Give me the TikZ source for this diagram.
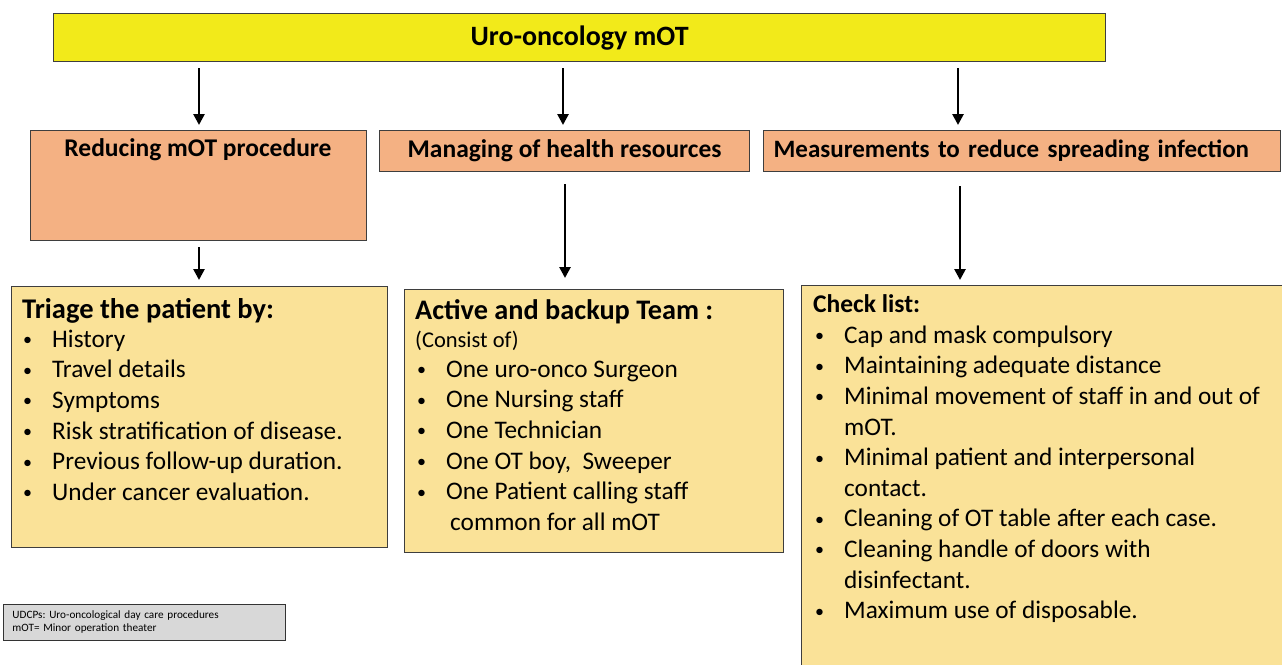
\documentclass[tikz,border=0pt]{standalone}
\usepackage{fontspec}
\setmainfont{Carlito}
\usepackage{tikz}
\usetikzlibrary{arrows.meta}

\definecolor{uroyellow}{RGB}{242,234,26}
\definecolor{uroorange}{RGB}{244,177,131}
\definecolor{uropale}{RGB}{250,226,152}
\definecolor{urogray}{RGB}{216,216,216}
\definecolor{boxline}{RGB}{62,62,62}

\newcommand{\bul}[1][28pt]{\makebox[#1][l]{\hspace*{-1pt}\raisebox{1.5pt}{\fontsize{18}{18}\selectfont\textbullet}}}
\newcommand{\firstline}{\rule{0pt}{20pt}}
\frenchspacing

\begin{document}
\begin{tikzpicture}[x=1pt,y=1pt,
  box/.style={draw=boxline,line width=1.2pt,inner sep=0pt,anchor=north west},
  head/.style={font=\fontsize{25.5}{30}\selectfont\bfseries},
  arr/.style={-{Triangle[width=11pt,length=11pt]},line width=2.6pt},
  list/.style={anchor=north west,inner sep=0pt,align=left,font=\fontsize{25.3}{30.6}\selectfont}]

\useasboundingbox (0,0) rectangle (1282,-664) ;

% top row
\node[box,fill=uroyellow,minimum width=1052pt,minimum height=48pt,font=\fontsize{28}{32}\selectfont\bfseries] (box_top) at (53,-13) {Uro-oncology mOT} ;

\node[box,fill=uroorange,minimum width=336pt,minimum height=110pt] (box_reduce) at (30,-130) {} ;
\node[head,anchor=base,inner sep=0pt] (txt_reduce) at (198,-156) {Reducing mOT procedure} ;
\node[box,fill=uroorange,minimum width=370pt,minimum height=41pt,head] (box_manage) at (379,-130) {Managing of health resources} ;
\node[box,fill=uroorange,minimum width=517pt,minimum height=41pt,font=\fontsize{25}{30}\selectfont\bfseries,text width=497pt,inner xsep=10pt,align=left] (box_measure) at (763,-130) {Measurements to reduce spreading infection} ;

\draw[arr,shorten <=6pt,shorten >=5pt] (199,0 |- box_top.south) -- (199,0 |- box_reduce.north) ;
\draw[arr,shorten <=6pt,shorten >=5pt] (563,0 |- box_top.south) -- (563,0 |- box_manage.north) ;
\draw[arr,shorten <=6pt,shorten >=5pt] (958,0 |- box_top.south) -- (958,0 |- box_measure.north) ;

% lower boxes
\node[box,fill=uropale,minimum width=376pt,minimum height=261pt] (box_triage) at (11,-286) {} ;
\node[box,fill=uropale,minimum width=379pt,minimum height=263pt] (box_team) at (404,-289) {} ;
\node[box,fill=uropale,minimum width=494pt,minimum height=395pt] (box_check) at (801,-285) {} ;

\draw[arr,shorten <=6pt,shorten >=6pt] (199,0 |- box_reduce.south) -- (199,0 |- box_triage.north) ;
\draw[arr,shorten <=12pt,shorten >=11pt] (565,0 |- box_manage.south) -- (565,0 |- box_team.north) ;
\draw[arr,shorten <=14pt,shorten >=5pt] (960,0 |- box_measure.south) -- (960,0 |- box_check.north) ;

\node[anchor=base west,inner sep=0pt,font=\fontsize{28.5}{32}\selectfont\bfseries] (head_triage) at (22,-318) {Triage the patient by:} ;
\node[list] (list_triage) at (24,-327) {\firstline\bul History\\ \bul Travel details\\ \bul Symptoms\\
  \bul Risk stratification of disease.\\ \bul Previous follow-up duration.\\ \bul Under cancer evaluation.} ;

\node[anchor=base west,inner sep=0pt,font=\fontsize{28.3}{32}\selectfont\bfseries] (head_team) at (415,-319) {Active and backup Team :} ;
\node[anchor=base west,inner sep=0pt,font=\fontsize{22.5}{26}\selectfont] (sub_team) at (415,-347) {(Consist of)} ;
\node[list] (list_team) at (418,-357) {\firstline\bul One uro-onco Surgeon\\ \bul One Nursing staff\\
  \bul One Technician\\ \bul One OT boy,\ \ Sweeper\\ \bul One Patient calling staff\\
  \hspace*{32pt}common for all mOT} ;

\node[anchor=base west,inner sep=0pt,font=\fontsize{25.5}{30}\selectfont\bfseries] (head_check) at (813,-312) {Check list:} ;
\node[list] (list_check) at (816,-323) {\firstline\bul Cap and mask compulsory\\ \bul Maintaining adequate distance\\
  \bul Minimal movement of staff in and out of\\ \hspace*{28pt}mOT.\\
  \bul Minimal patient and interpersonal\\ \hspace*{28pt}contact.\\
  \bul Cleaning of OT table after each case.\\ \bul Cleaning handle of doors with\\
  \hspace*{28pt}disinfectant.\\ \bul Maximum use of disposable.} ;

% abbreviations
\node[box,draw=black!80,line width=1pt,fill=urogray,minimum width=282pt,minimum height=36pt,text width=264pt,inner xsep=9pt,align=left,font=\fontsize{11.2}{13}\selectfont] (box_note) at (3,-604) {UDCPs: Uro-oncological day care procedures\\ mOT= Minor operation theater} ;

\end{tikzpicture}
\end{document}
